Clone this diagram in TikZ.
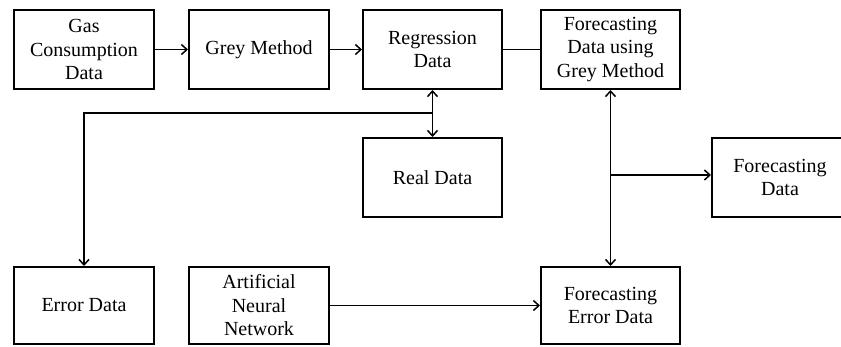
\documentclass[tikz,border=0pt]{standalone}
\usepackage{fontspec}
\setmainfont{Liberation Serif}
\usetikzlibrary{arrows.meta}
\begin{document}
\begin{tikzpicture}[x=1pt,y=-1pt,
  box/.style={draw, line width=2pt, minimum width=140pt, minimum height=79pt,
    align=center, inner sep=2pt, font=\fontsize{20}{23.5}\selectfont},
  tip/.tip={Straight Barb[length=5.5pt,width=10pt,line width=1.5pt]},
  conn/.style={line width=1.5pt, -tip},
  dconn/.style={line width=1.5pt, tip-tip},
  plain/.style={line width=1.5pt}]
\useasboundingbox (0,0) rectangle (841,346);
\clip (0,0) rectangle (841,346);
\node[box] (gas) at (84,49.5) {Gas\\Consumption\\Data};
\node[box] (grey) at (259,49.5) {Grey Method};
\node[box, minimum width=139pt] (reg) at (432.5,49.5) {Regression\\Data};
\node[box, minimum width=139pt] (fgrey) at (610.5,49.5) {Forecasting\\Data using\\Grey Method};
\node[box, minimum width=139pt] (real) at (432.5,177.5) {Real Data};
\node[box, minimum width=136pt] (fdata) at (780,177.5) {Forecasting\\Data};
\node[box, minimum height=77pt] (err) at (84,305.5) {Error Data};
\node[box, minimum height=77pt] (ann) at (259,305.5) {Artificial\\Neural\\Network};
\node[box, minimum width=139pt, minimum height=77pt] (ferr) at (610.5,305.5) {Forecasting\\Error Data};
\coordinate (j1) at (432.5,113);
\coordinate (j2) at (610.5,175);
\draw[conn] (gas) -- (grey);
\draw[conn] (grey) -- (reg);
\draw[plain] (reg) -- (fgrey);
\draw[dconn] (reg) -- (real);
\draw[conn] (j1) -| (err);
\draw[dconn] (fgrey) -- (ferr);
\draw[conn] (j2) -- (fdata.west |- j2);
\draw[conn] (ann) -- (ferr);
\end{tikzpicture}
\end{document}
